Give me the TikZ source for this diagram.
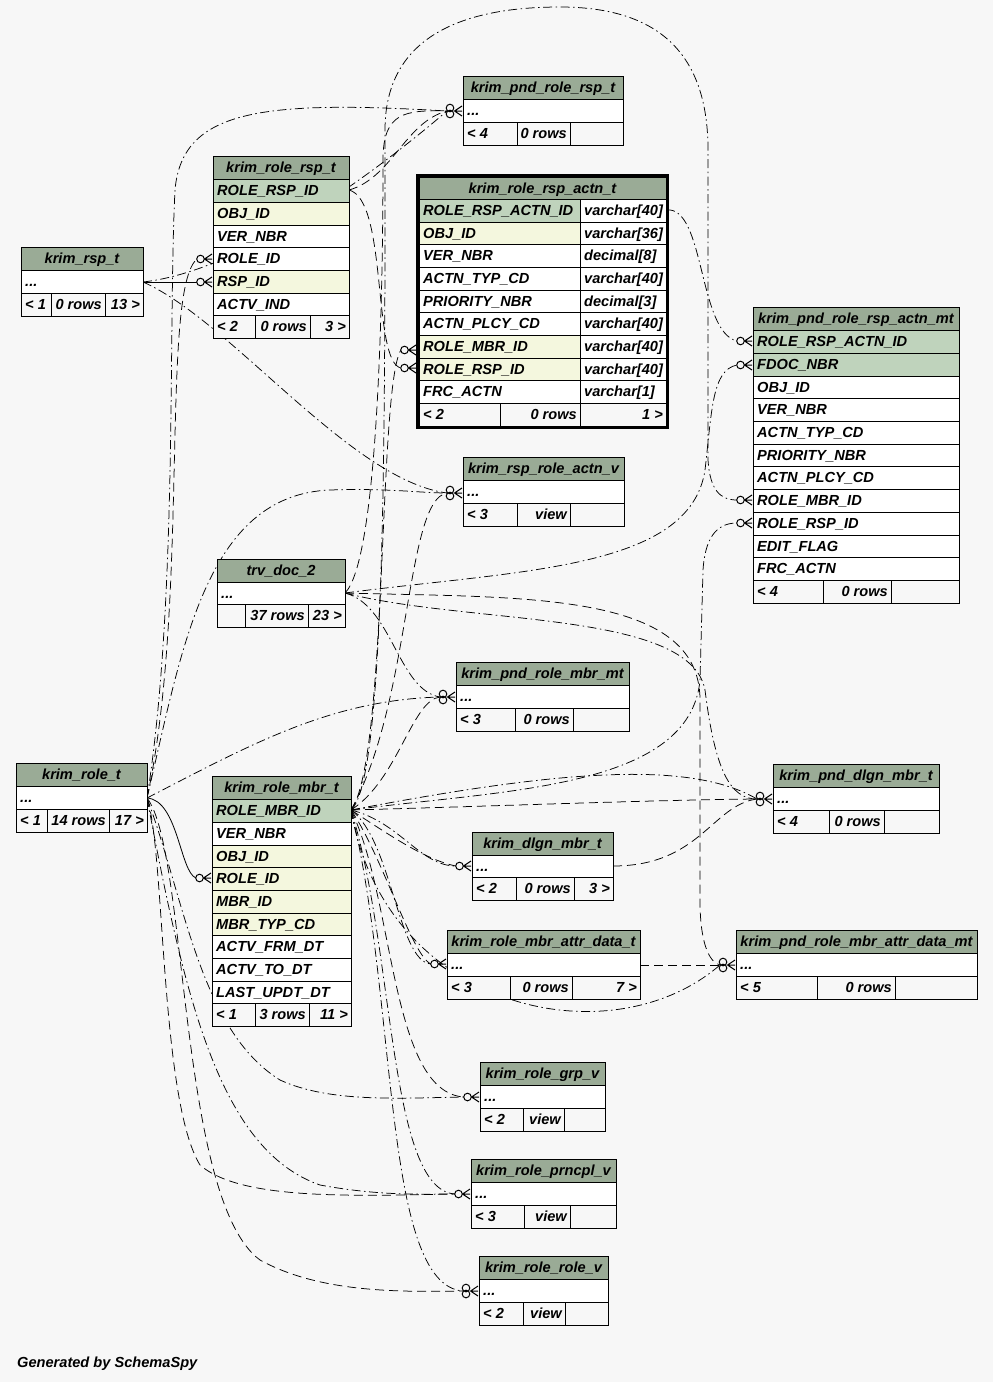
\documentclass[tikz,border=0pt]{standalone}
\usepackage{fontspec}
\setmainfont{Liberation Sans}
\definecolor{bgc}{HTML}{F7F7F7}
\definecolor{hdrc}{HTML}{9AAB96}
\definecolor{pkc}{HTML}{BFD3BC}
\definecolor{fkc}{HTML}{F4F7DE}
\tikzset{
  cellline/.style={draw=black, line width=0.9pt},
  txt/.style={font=\fontsize{14.6}{16}\selectfont\bfseries\itshape, inner sep=0pt, text=black},
  rel/.style={line width=0.75pt, dash pattern=on 9pt off 5pt},
  reldd/.style={line width=0.75pt, dash pattern=on 9pt off 3.5pt on 1.5pt off 3.5pt},
  solidrel/.style={line width=0.8pt},
  mk/.style={line width=1pt}
}
\newcommand\thdr[5]{%
  \path[cellline,fill=hdrc] (#2,#4) rectangle (#3,{#4+23});
  \node[txt,anchor=base] (#1) at ({(#2+#3)/2},{#4+16.5}) {#5};}
\newcommand\trow[6]{%
  \path[cellline,fill=#5] (#2,#4) rectangle (#3,{#4+23});
  \node[txt,anchor=base west] (#1) at ({#2+4},{#4+16.5}) {#6};}
\newcommand\tfoot[9]{%
  \path[cellline,fill=bgc] (#2,#6) rectangle (#3,{#6+23});
  \path[cellline,fill=bgc] (#3,#6) rectangle (#4,{#6+23});
  \path[cellline,fill=bgc] (#4,#6) rectangle (#5,{#6+23});
  \node[txt,anchor=base west] (#1-a) at ({#2+4},{#6+16.5}) {#7};
  \node[txt,anchor=base east] (#1-b) at ({#4-3},{#6+16.5}) {#8};
  \node[txt,anchor=base east] (#1-c) at ({#5-3},{#6+16.5}) {#9};}
\newcommand\tcrow[2]{%
  \draw[mk,fill=bgc] ({#1-12.5},#2) circle (3.8pt);
  \draw[mk] ({#1-8.5},#2) -- ({#1-1},{#2-5}) ({#1-8.5},#2) -- ({#1-1},#2) ({#1-8.5},#2) -- ({#1-1},{#2+5});}
\newcommand\tcrowd[2]{%
  \draw[mk,fill=bgc] ({#1-13},{#2-3}) circle (3.8pt);
  \draw[mk] ({#1-13},{#2+3}) circle (3.8pt);
  \draw[mk] ({#1-8.5},#2) -- ({#1-1},{#2-5}) ({#1-8.5},#2) -- ({#1-1},#2) ({#1-8.5},#2) -- ({#1-1},{#2+5});}
\begin{document}
\begin{tikzpicture}[x=1pt,y=-1pt]
\useasboundingbox (0,0) rectangle (993,1382);
\fill[bgc] (0,0) rectangle (993,1382);
% ---------- ports ----------
\coordinate (p-rsp) at (143,282);
\coordinate (p-rolersp) at (349,190);
\coordinate (p-actn) at (666,210);
\coordinate (p-doc) at (345,593);
\coordinate (p-role) at (147,798);
\coordinate (p-mbr) at (351,810);
\coordinate (p-dlgn) at (613,866);
\coordinate (p-attr) at (640,965);
\coordinate (c-rr-role) at (197,259);
\coordinate (c-rr-rsp) at (197,282);
\coordinate (c-prsp) at (447,111);
\coordinate (c-actn-mbr) at (401,350);
\coordinate (c-actn-rsp) at (401,368);
\coordinate (c-pa-actn) at (737,341);
\coordinate (c-pa-doc) at (737,365);
\coordinate (c-pa-mbr) at (737,500);
\coordinate (c-pa-rsp) at (737,523);
\coordinate (c-rav) at (447,493);
\coordinate (c-pm) at (440,697);
\coordinate (c-pd) at (757,799);
\coordinate (c-dm) at (456,866);
\coordinate (c-ad) at (431,964);
\coordinate (c-pad) at (720,965);
\coordinate (c-grp) at (464,1097);
\coordinate (c-pr) at (455,1194);
\coordinate (c-rv) at (463,1291);
\coordinate (c-rm-role) at (196,878);
% ---------- connectors ----------
\draw[solidrel] (p-rsp) -- (c-rr-rsp);
\draw[rel] (p-role) .. controls (190,600) and (160,290) .. (c-rr-role);
\draw[reldd] (p-role) .. controls (178,600) and (168,330) .. (175,190) .. controls (182,110) and (260,100) .. (c-prsp);
\draw[rel] (p-rolersp) .. controls (392,178) and (405,122) .. (c-prsp);
\draw[rel] (p-doc) .. controls (378,560) and (383,300) .. (383,160) .. controls (383,112) and (405,110) .. (c-prsp);
\draw[reldd] (p-rsp) .. controls (250,270) and (390,160) .. (c-prsp);
\draw[rel] (p-rolersp) .. controls (388,200) and (372,362) .. (c-actn-rsp);
\draw[rel] (p-mbr) .. controls (388,760) and (378,385) .. (c-actn-mbr);
\draw[reldd] (p-actn) .. controls (705,205) and (698,332) .. (c-pa-actn);
\draw[reldd] (p-doc) .. controls (520,570) and (690,570) .. (705,470) .. controls (712,410) and (712,370) .. (c-pa-doc);
\draw[reldd] (p-mbr) .. controls (386,780) and (385,420) .. (385,130) .. controls (385,35) and (465,7) .. (560,7) .. controls (660,7) and (708,55) .. (708,150) -- (708,460) .. controls (710,490) and (720,500) .. (c-pa-mbr);
\draw[reldd] (p-mbr) .. controls (500,790) and (690,790) .. (700,680) -- (703,570) .. controls (705,540) and (715,523) .. (c-pa-rsp);
\draw[reldd] (p-rsp) .. controls (230,320) and (350,480) .. (c-rav);
\draw[reldd] (p-role) .. controls (182,650) and (205,495) .. (330,490) .. controls (390,488) and (420,493) .. (c-rav);
\draw[rel] (p-mbr) .. controls (412,700) and (405,500) .. (c-rav);
\draw[reldd] (p-role) .. controls (250,745) and (330,700) .. (c-pm);
\draw[reldd] (p-doc) .. controls (392,605) and (398,690) .. (c-pm);
\draw[rel] (p-mbr) .. controls (398,780) and (412,700) .. (c-pm);
\draw[rel] (p-mbr) .. controls (500,806) and (650,800) .. (c-pd);
\draw[reldd] (p-doc) .. controls (470,625) and (690,610) .. (705,690) .. controls (715,770) and (730,799) .. (c-pd);
\draw[rel] (p-dlgn) .. controls (700,866) and (712,805) .. (c-pd);
\draw[reldd] (p-mbr) .. controls (560,770) and (690,760) .. (c-pd);
\draw[reldd] (p-mbr) .. controls (400,822) and (420,866) .. (c-dm);
\draw[rel] (p-mbr) .. controls (385,832) and (425,860) .. (c-dm);
\draw[reldd] (p-mbr) .. controls (392,840) and (398,962) .. (c-ad);
\draw[rel] (p-mbr) .. controls (382,855) and (412,956) .. (c-ad);
\draw[rel] (p-attr) -- (c-pad);
\draw[reldd] (p-mbr) .. controls (385,1010) and (610,1060) .. (c-pad);
\draw[rel] (p-doc) .. controls (520,598) and (700,590) .. (700,700) -- (700,900) .. controls (700,940) and (708,962) .. (c-pad);
\draw[reldd] (p-role) .. controls (185,900) and (200,1030) .. (280,1080) .. controls (330,1103) and (400,1098) .. (c-grp);
\draw[rel] (p-mbr) .. controls (395,900) and (390,1092) .. (c-grp);
\draw[reldd] (p-role) .. controls (185,1000) and (220,1150) .. (320,1185) .. controls (380,1196) and (420,1194) .. (c-pr);
\draw[reldd] (p-mbr) .. controls (395,950) and (388,1190) .. (c-pr);
\draw[rel] (p-role) .. controls (165,850) and (160,1100) .. (200,1165) .. controls (240,1200) and (350,1196) .. (c-pr);
\draw[rel] (p-role) .. controls (188,850) and (178,1200) .. (260,1260) .. controls (320,1293) and (400,1292) .. (c-rv);
\draw[reldd] (p-mbr) .. controls (398,1000) and (382,1285) .. (c-rv);
\draw[solidrel] (p-role) .. controls (178,800) and (180,872) .. (c-rm-role);
% ---------- markers ----------
\tcrow{213}{259}
\tcrow{213}{282}
\tcrowd{463}{111}
\tcrow{417}{350}
\tcrow{417}{368}
\tcrow{753}{341}
\tcrow{753}{365}
\tcrow{753}{500}
\tcrow{753}{523}
\tcrowd{463}{493}
\tcrowd{456}{697}
\tcrowd{773}{799}
\tcrow{472}{866}
\tcrow{447}{964}
\tcrowd{736}{965}
\tcrow{480}{1097}
\tcrow{471}{1194}
\tcrowd{479}{1291}
\tcrow{212}{878}
% ---------- krim_rsp_t ----------
\thdr{rsp-h}{21}{143}{247}{krim\_rsp\_t}
\trow{rsp-r}{21}{143}{270}{white}{...}
\tfoot{rsp-f}{21}{51}{105}{143}{293}{< 1}{0 rows}{13 >}
% ---------- krim_role_rsp_t ----------
\thdr{rr-h}{213}{349}{156}{krim\_role\_rsp\_t}
\trow{rr-1}{213}{349}{179}{pkc}{ROLE\_RSP\_ID}
\trow{rr-2}{213}{349}{202}{fkc}{OBJ\_ID}
\trow{rr-3}{213}{349}{225}{white}{VER\_NBR}
\trow{rr-4}{213}{349}{247}{white}{ROLE\_ID}
\trow{rr-5}{213}{349}{270}{fkc}{RSP\_ID}
\trow{rr-6}{213}{349}{293}{white}{ACTV\_IND}
\tfoot{rr-f}{213}{255}{310}{349}{315}{< 2}{0 rows}{3 >}
% ---------- krim_pnd_role_rsp_t ----------
\thdr{prsp-h}{463}{623}{76}{krim\_pnd\_role\_rsp\_t}
\trow{prsp-r}{463}{623}{99}{white}{...}
\tfoot{prsp-f}{463}{517}{570}{623}{122}{< 4}{0 rows}{}
% ---------- krim_role_rsp_actn_t ----------
\thdr{actn-h}{419}{666}{177}{krim\_role\_rsp\_actn\_t}
\trow{actn-1}{419}{580}{199}{pkc}{ROLE\_RSP\_ACTN\_ID}
\trow{actn-1t}{580}{666}{199}{white}{varchar[40]}
\trow{actn-2}{419}{580}{222}{fkc}{OBJ\_ID}
\trow{actn-2t}{580}{666}{222}{white}{varchar[36]}
\trow{actn-3}{419}{580}{244}{white}{VER\_NBR}
\trow{actn-3t}{580}{666}{244}{white}{decimal[8]}
\trow{actn-4}{419}{580}{267}{white}{ACTN\_TYP\_CD}
\trow{actn-4t}{580}{666}{267}{white}{varchar[40]}
\trow{actn-5}{419}{580}{290}{white}{PRIORITY\_NBR}
\trow{actn-5t}{580}{666}{290}{white}{decimal[3]}
\trow{actn-6}{419}{580}{312}{white}{ACTN\_PLCY\_CD}
\trow{actn-6t}{580}{666}{312}{white}{varchar[40]}
\trow{actn-7}{419}{580}{335}{fkc}{ROLE\_MBR\_ID}
\trow{actn-7t}{580}{666}{335}{white}{varchar[40]}
\trow{actn-8}{419}{580}{358}{fkc}{ROLE\_RSP\_ID}
\trow{actn-8t}{580}{666}{358}{white}{varchar[40]}
\trow{actn-9}{419}{580}{380}{white}{FRC\_ACTN}
\trow{actn-9t}{580}{666}{380}{white}{varchar[1]}
\tfoot{actn-f}{419}{500}{580}{666}{403}{< 2}{0 rows}{1 >}
\draw[line width=3pt] (417.5,175.5) rectangle (667.5,427);
% ---------- krim_pnd_role_rsp_actn_mt ----------
\thdr{pa-h}{753}{959}{307}{krim\_pnd\_role\_rsp\_actn\_mt}
\trow{pa-1}{753}{959}{330}{pkc}{ROLE\_RSP\_ACTN\_ID}
\trow{pa-2}{753}{959}{353}{pkc}{FDOC\_NBR}
\trow{pa-3}{753}{959}{376}{white}{OBJ\_ID}
\trow{pa-4}{753}{959}{398}{white}{VER\_NBR}
\trow{pa-5}{753}{959}{421}{white}{ACTN\_TYP\_CD}
\trow{pa-6}{753}{959}{444}{white}{PRIORITY\_NBR}
\trow{pa-7}{753}{959}{466}{white}{ACTN\_PLCY\_CD}
\trow{pa-8}{753}{959}{489}{white}{ROLE\_MBR\_ID}
\trow{pa-9}{753}{959}{512}{white}{ROLE\_RSP\_ID}
\trow{pa-10}{753}{959}{535}{white}{EDIT\_FLAG}
\trow{pa-11}{753}{959}{557}{white}{FRC\_ACTN}
\tfoot{pa-f}{753}{823}{891}{959}{580}{< 4}{0 rows}{}
% ---------- krim_rsp_role_actn_v ----------
\thdr{rav-h}{463}{624}{457}{krim\_rsp\_role\_actn\_v}
\trow{rav-r}{463}{624}{480}{white}{...}
\tfoot{rav-f}{463}{517}{570}{624}{503}{< 3}{view}{}
% ---------- trv_doc_2 ----------
\thdr{doc-h}{217}{345}{559}{trv\_doc\_2}
\trow{doc-r}{217}{345}{582}{white}{...}
\tfoot{doc-f}{217}{245}{308}{345}{604}{}{37 rows}{23 >}
% ---------- krim_pnd_role_mbr_mt ----------
\thdr{pm-h}{456}{629}{662}{krim\_pnd\_role\_mbr\_mt}
\trow{pm-r}{456}{629}{685}{white}{...}
\tfoot{pm-f}{456}{515}{573}{629}{708}{< 3}{0 rows}{}
% ---------- krim_role_t ----------
\thdr{role-h}{16}{147}{763}{krim\_role\_t}
\trow{role-r}{16}{147}{786}{white}{...}
\tfoot{role-f}{16}{47}{109}{147}{809}{< 1}{14 rows}{17 >}
% ---------- krim_role_mbr_t ----------
\thdr{mbr-h}{212}{351}{776}{krim\_role\_mbr\_t}
\trow{mbr-1}{212}{351}{799}{pkc}{ROLE\_MBR\_ID}
\trow{mbr-2}{212}{351}{822}{white}{VER\_NBR}
\trow{mbr-3}{212}{351}{845}{fkc}{OBJ\_ID}
\trow{mbr-4}{212}{351}{867}{fkc}{ROLE\_ID}
\trow{mbr-5}{212}{351}{890}{fkc}{MBR\_ID}
\trow{mbr-6}{212}{351}{913}{fkc}{MBR\_TYP\_CD}
\trow{mbr-7}{212}{351}{935}{white}{ACTV\_FRM\_DT}
\trow{mbr-8}{212}{351}{958}{white}{ACTV\_TO\_DT}
\trow{mbr-9}{212}{351}{981}{white}{LAST\_UPDT\_DT}
\tfoot{mbr-f}{212}{255}{309}{351}{1003}{< 1}{3 rows}{11 >}
% ---------- krim_pnd_dlgn_mbr_t ----------
\thdr{pd-h}{773}{939}{764}{krim\_pnd\_dlgn\_mbr\_t}
\trow{pd-r}{773}{939}{787}{white}{...}
\tfoot{pd-f}{773}{829}{884}{939}{810}{< 4}{0 rows}{}
% ---------- krim_dlgn_mbr_t ----------
\thdr{dm-h}{472}{613}{832}{krim\_dlgn\_mbr\_t}
\trow{dm-r}{472}{613}{855}{white}{...}
\tfoot{dm-f}{472}{516}{574}{613}{877}{< 2}{0 rows}{3 >}
% ---------- krim_role_mbr_attr_data_t ----------
\thdr{ad-h}{447}{640}{930}{krim\_role\_mbr\_attr\_data\_t}
\trow{ad-r}{447}{640}{953}{white}{...}
\tfoot{ad-f}{447}{510}{572}{640}{976}{< 3}{0 rows}{7 >}
% ---------- krim_pnd_role_mbr_attr_data_mt ----------
\thdr{pad-h}{736}{977}{930}{krim\_pnd\_role\_mbr\_attr\_data\_mt}
\trow{pad-r}{736}{977}{953}{white}{...}
\tfoot{pad-f}{736}{817}{895}{977}{976}{< 5}{0 rows}{}
% ---------- krim_role_grp_v ----------
\thdr{grp-h}{480}{605}{1062}{krim\_role\_grp\_v}
\trow{grp-r}{480}{605}{1085}{white}{...}
\tfoot{grp-f}{480}{523}{564}{605}{1108}{< 2}{view}{}
% ---------- krim_role_prncpl_v ----------
\thdr{pr-h}{471}{616}{1159}{krim\_role\_prncpl\_v}
\trow{pr-r}{471}{616}{1182}{white}{...}
\tfoot{pr-f}{471}{524}{570}{616}{1205}{< 3}{view}{}
% ---------- krim_role_role_v ----------
\thdr{rv-h}{479}{608}{1256}{krim\_role\_role\_v}
\trow{rv-r}{479}{608}{1279}{white}{...}
\tfoot{rv-f}{479}{523}{565}{608}{1302}{< 2}{view}{}
% ---------- footer text ----------
\node[txt,anchor=base west] (gen) at (17,1367) {Generated by SchemaSpy};
\end{tikzpicture}
\end{document}
